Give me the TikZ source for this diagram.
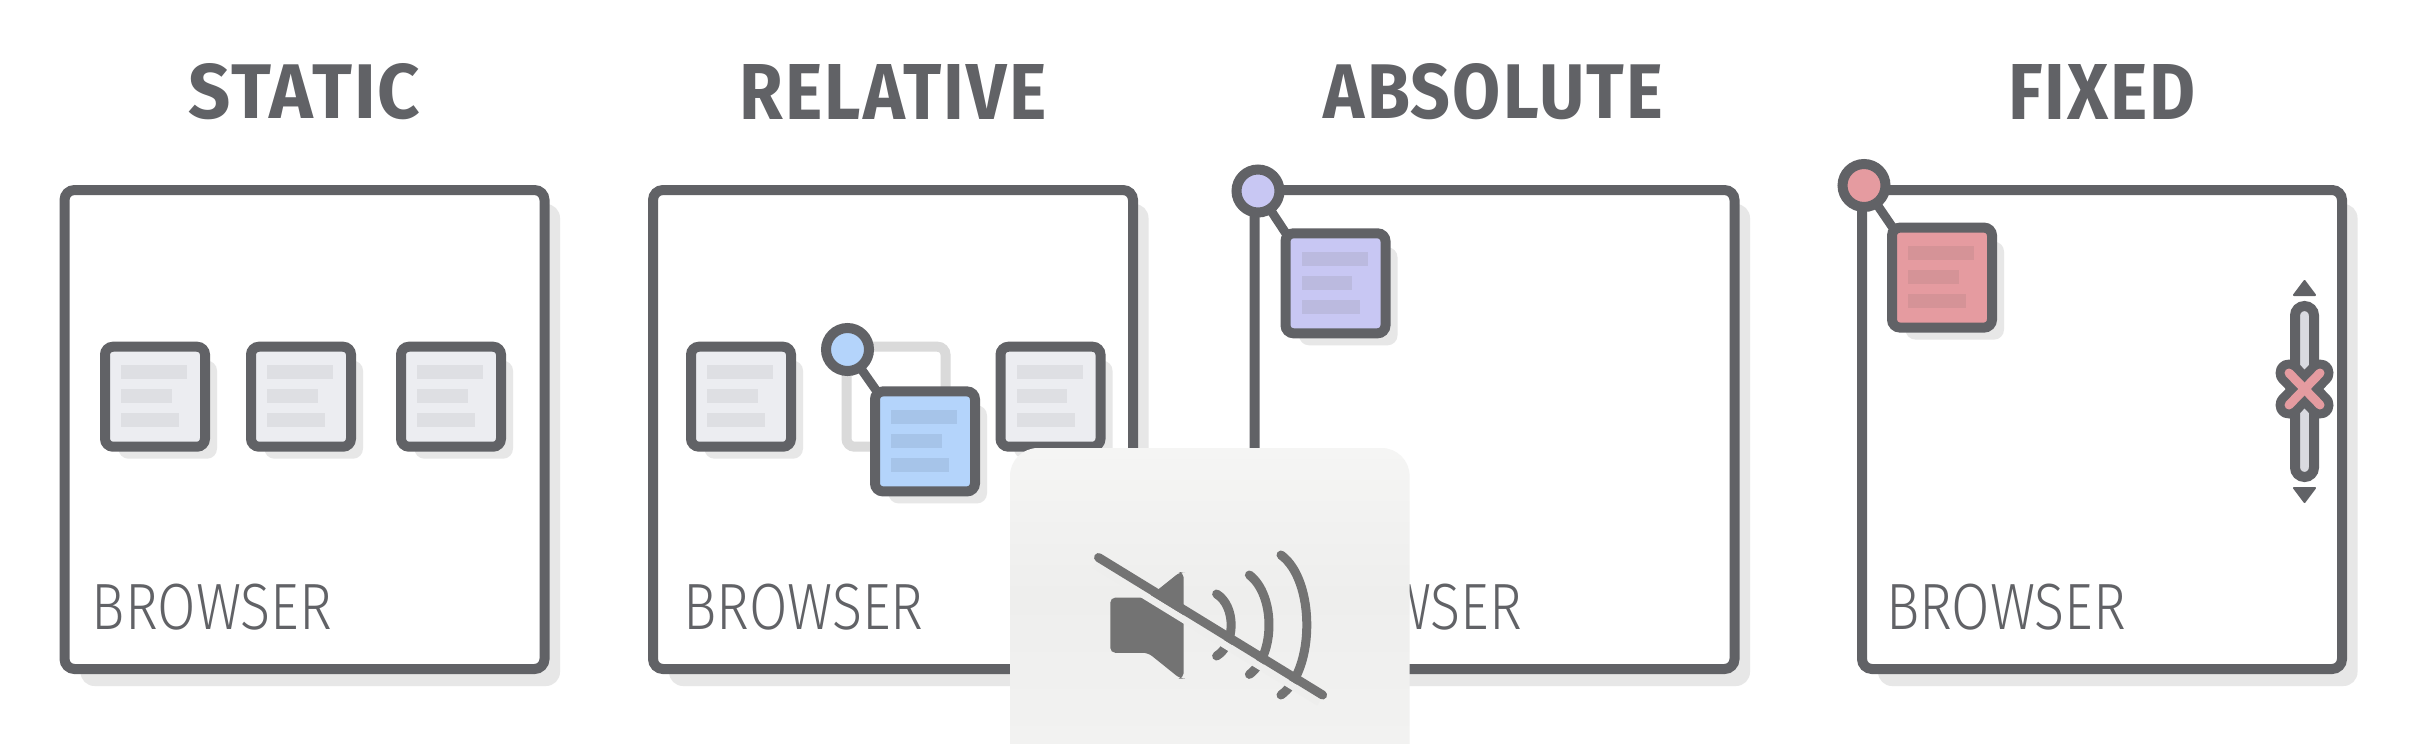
\documentclass[tikz,border=0pt]{standalone}
\usepackage{fontspec}
\usepackage{graphicx}
\setmainfont{Fira Sans}
\newfontfamily\titlefont{Fira Sans Bold}[LetterSpace=3]
\newfontfamily\lightfont{Fira Sans Light}
\definecolor{ink}{HTML}{616266}
\definecolor{dropgrey}{HTML}{E7E7E7}
\definecolor{ghost}{HTML}{DADADA}
\definecolor{plainfill}{HTML}{ECEDF1}
\definecolor{plainbar}{HTML}{DEDFE3}
\definecolor{bluefill}{HTML}{B4D4FB}
\definecolor{bluebar}{HTML}{A6C4E9}
\definecolor{violetfill}{HTML}{C8C7F3}
\definecolor{violetbar}{HTML}{BBBADF}
\definecolor{redfill}{HTML}{E59BA0}
\definecolor{redbar}{HTML}{D59397}
\definecolor{trackfill}{HTML}{D9DAE0}
\definecolor{muteink}{HTML}{737373}
\definecolor{mutetop}{HTML}{F5F5F4}
\definecolor{mutemid}{HTML}{EEEEED}
\definecolor{mutebot}{HTML}{F2F2F1}
\usetikzlibrary{shapes.geometric}
\tikzset{
  x=1pt,y=-1pt,
  frame/.style={draw=ink,line width=10pt,fill=white,rounded corners=10pt,inner sep=0pt,outer sep=0pt,minimum width=480pt,minimum height=479pt},
  card/.style={draw=ink,line width=10pt,rounded corners=8pt,inner sep=0pt,outer sep=0pt,minimum width=100pt,minimum height=100pt},
  ghostcard/.style={draw=ghost,line width=10pt,rounded corners=8pt,inner sep=0pt,outer sep=0pt,minimum width=99pt,minimum height=100pt,fill=white},
  pin/.style={circle,draw=ink,line width=10pt,inner sep=0pt,outer sep=0pt,minimum size=43pt},
  link/.style={draw=ink,line width=9pt},
  titletext/.style={text=ink,inner sep=0pt,outer sep=0pt,anchor=center},
  browsertext/.style={text=ink,inner sep=0pt,outer sep=0pt,anchor=center},
  muteline/.style={draw=muteink,line width=9pt,line cap=round},
}
% #1 name, #2 centre x, #3 centre y, #4 fill, #5 bar colour
\newcommand{\cardat}[5]{%
  \fill[dropgrey,rounded corners=10pt] (#2-36.5,#3-36) rectangle (#2+62,#3+62);
  \node[card,fill=#4] (#1) at (#2,#3) {};
  \fill[#5] (#2-34,#3-31.3) rectangle +(66,14);
  \fill[#5] (#2-34,#3-7.5) rectangle +(50.5,14);
  \fill[#5] (#2-34,#3+16.3) rectangle +(58,14);
}
% #1 name, #2 centre x
\newcommand{\frameat}[2]{%
  \fill[dropgrey,rounded corners=14pt] (#2-224,204) rectangle (#2+255.5,686);
  \node[frame] (#1) at (#2,429.5) {};
}
\begin{document}
\begin{tikzpicture}
\useasboundingbox (0,0) rectangle (2414,744);
\fill[white] (0,0) rectangle (2414,744);

% titles
\node[titletext] (t1) at (304.5,91.5) {\resizebox{232pt}{55pt}{\titlefont STATIC}};
\node[titletext] (t2) at (893,91.5) {\resizebox{307pt}{55pt}{\titlefont RELATIVE}};
\node[titletext] (t3) at (1493.5,91.5) {\resizebox{339pt}{55pt}{\titlefont ABSOLUTE}};
\node[titletext] (t4) at (2102,91.5) {\resizebox{188pt}{55pt}{\titlefont FIXED}};

% frames
\frameat{f1}{304.5}
\frameat{f2}{893}
\frameat{f3}{1494.5}
\frameat{f4}{2102}

% browser labels
\node[browsertext] (b1) at (212,607.5) {\resizebox{240pt}{45.5pt}{\lightfont BROWSER}};
\node[browsertext] (b2) at (803.5,607.5) {\resizebox{240pt}{45.5pt}{\lightfont BROWSER}};
\node[browsertext] (b3) at (1402,607.5) {\resizebox{240pt}{45.5pt}{\lightfont BROWSER}};
\node[browsertext] (b4) at (2006,607.5) {\resizebox{240pt}{45.5pt}{\lightfont BROWSER}};

% static
\cardat{c11}{155}{396.7}{plainfill}{plainbar}
\cardat{c12}{301}{396.7}{plainfill}{plainbar}
\cardat{c13}{451}{396.7}{plainfill}{plainbar}

% relative
\cardat{c21}{741}{396.7}{plainfill}{plainbar}
\node[ghostcard] (g2) at (896,396.7) {};
\cardat{c23}{1050.5}{396.7}{plainfill}{plainbar}
\coordinate (k2) at (877,391.5);
\node[pin,fill=bluefill] (p2) at (847.5,349.5) {};
\draw[link] (p2) -- (k2);
\cardat{c22}{925}{441.4}{bluefill}{bluebar}

% absolute
\coordinate (k3) at (1287,235);
\node[pin,fill=violetfill] (p3) at (1258,191) {};
\draw[link] (p3) -- (k3);
\cardat{c31}{1335.5}{283.3}{violetfill}{violetbar}

% fixed
\coordinate (k4) at (1893,228);
\node[pin,fill=redfill] (p4) at (1864,185.5) {};
\draw[link] (p4) -- (k4);
\cardat{c41}{1942}{277.6}{redfill}{redbar}

% scroll bar
\node[draw=ink,fill=trackfill,line width=10pt,rounded corners=9.5pt,minimum width=19pt,minimum height=171pt,inner sep=0pt,outer sep=0pt] (s4) at (2304.5,391.5) {};
\draw[ink,line width=27pt,line cap=round] (2289,373) -- (2320,405);
\draw[ink,line width=27pt,line cap=round] (2289,405) -- (2320,373);
\draw[redfill,line width=9pt,line cap=round] (2289,373) -- (2320,405);
\draw[redfill,line width=9pt,line cap=round] (2289,405) -- (2320,373);
\fill[ink,draw=ink,line width=2pt,line join=round] (2304.5,281) -- (2315,295) -- (2294,295) -- cycle;
\fill[ink,draw=ink,line width=2pt,line join=round] (2304.5,502) -- (2315,488) -- (2294,488) -- cycle;

% mute overlay
\path[top color=mutetop,bottom color=mutebot,middle color=mutemid] (1010,744) [rounded corners=28pt] -- (1010,448) -- (1409.6,448) [sharp corners] -- (1409.6,744) -- cycle;
\fill[muteink,rounded corners=5pt] (1110.3,597.6) -- (1148,597.6) -- (1180,572) -- (1183.5,572) -- (1183.5,678.5) -- (1180,678.5) -- (1148,652.8) -- (1110.3,652.8) -- cycle;
\draw[muteline] (1216.6,594) .. controls (1236,606) and (1236,644) .. (1216.6,656);
\draw[muteline] (1249.4,575) .. controls (1275.5,595) and (1275.5,655) .. (1249.4,674.4);
\draw[muteline] (1281,555) .. controls (1315.4,580) and (1315.4,670) .. (1281,695);
\draw[mutemid,line width=7pt] (1094.8,565) -- (1318.9,702.5);
\draw[muteline] (1098.5,557.5) -- (1322.6,695);
\end{tikzpicture}
\end{document}
